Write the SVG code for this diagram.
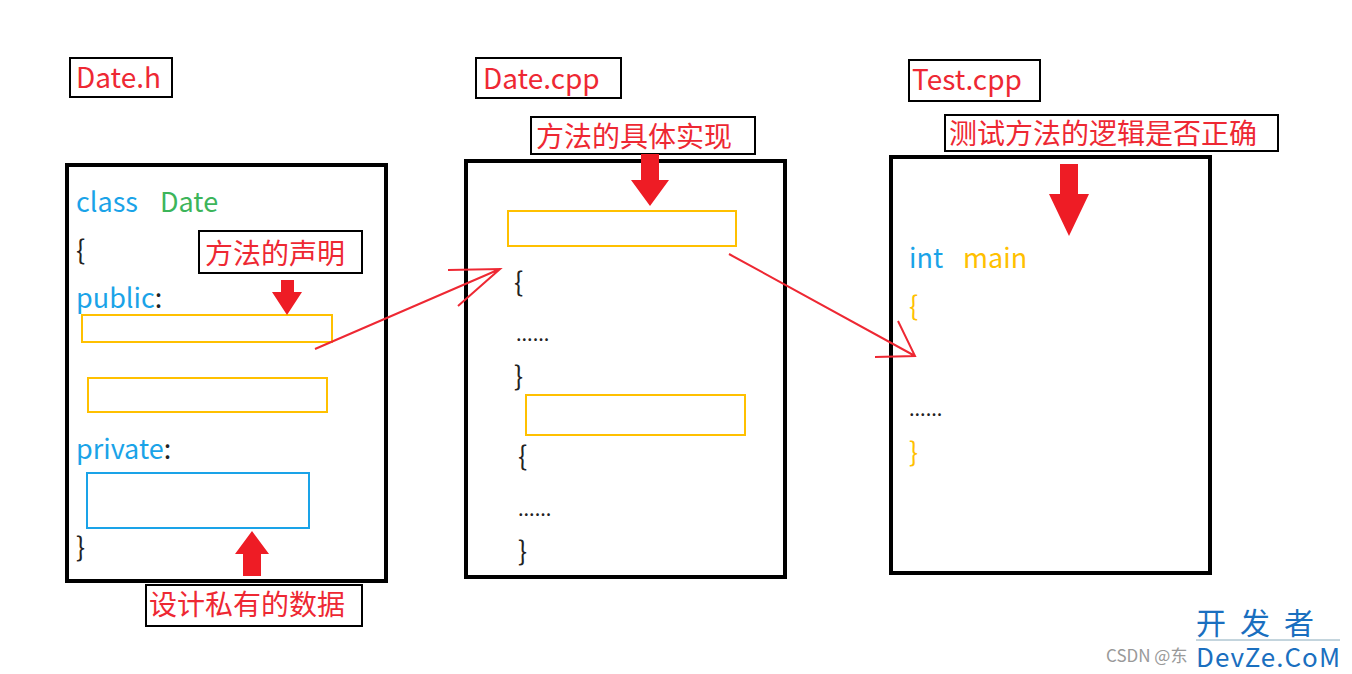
<svg xmlns="http://www.w3.org/2000/svg" width="1352" height="674" viewBox="0 0 1352 674">
<style>
text{font-family:"Microsoft YaHei","Noto Sans CJK SC",sans-serif}
.lbl{font-size:28px;fill:#ee2833}
.lb{fill:#fff;stroke:#000;stroke-width:2}
.box{fill:#fff;stroke:#000;stroke-width:4}
.y{fill:none;stroke:#ffc000;stroke-width:2}
.code{font-size:27px}
.dots{font-size:20px;fill:#222}
.blue{fill:#1aa3e8}.green{fill:#3cb55a}.blk{fill:#222}.yel{fill:#ffc000}
.ln{stroke:#ee2833;stroke-width:2;fill:none}
</style>
<rect width="1352" height="674" fill="#fff"/>
<g id="n-dateh"><rect class="lb" x="70" y="58" width="102" height="39"/><text class="lbl" x="76" y="88">Date.h</text></g>
<g id="n-datecpp"><rect class="lb" x="476" y="58" width="145" height="40"/><text class="lbl" x="483" y="89">Date.cpp</text></g>
<g id="n-testcpp"><rect class="lb" x="909" y="60" width="131" height="41"/><text class="lbl" x="912" y="90">Test.cpp</text></g>
<g id="box1"><rect class="box" x="67" y="165" width="319" height="416"/>
<text class="code blue" x="76" y="212">class</text><text class="code green" x="160" y="212">Date</text>
<text class="code blk" x="76" y="260">{</text>
<text class="code blue" x="76" y="308">public<tspan class="blk">:</tspan></text>
<rect class="y" x="82" y="315" width="250" height="27"/>
<rect class="y" x="88" y="378" width="239" height="34"/>
<text class="code blue" x="76" y="459">private<tspan class="blk">:</tspan></text>
<rect x="87" y="473" width="222" height="55" fill="none" stroke="#1aa3e8" stroke-width="2"/>
<text class="code blk" x="76" y="557">}</text></g>
<g id="box2"><rect class="box" x="466" y="161" width="319" height="416"/>
<rect class="y" x="508" y="211" width="228" height="35"/>
<text class="code blk" x="514" y="292">{</text>
<text class="dots" x="516" y="341">......</text>
<text class="code blk" x="514" y="386">}</text>
<rect class="y" x="526" y="395" width="219" height="40"/>
<text class="code blk" x="518" y="466">{</text>
<text class="dots" x="518" y="516">......</text>
<text class="code blk" x="518" y="561">}</text></g>
<g id="box3"><rect class="box" x="891" y="157" width="319" height="416"/>
<text class="code blue" x="909" y="268">int</text><text class="code yel" x="963" y="268">main</text>
<text class="code yel" x="909" y="316">{</text>
<text class="dots" x="909" y="416">......</text>
<text class="code yel" x="909" y="462">}</text></g>
<g id="c-decl"><rect class="lb" x="199" y="231" width="163" height="42"/><text class="lbl" x="205" y="264">方法的声明</text>
<path d="M281 280h13v12h8l-15 23l-15-23h9z" fill="#ee1c25"/></g>
<g id="c-impl"><rect class="lb" x="531" y="117" width="224" height="37"/><text class="lbl" x="536" y="147">方法的具体实现</text>
<path d="M641 154h18v26h10l-19 26l-19-26h10z" fill="#ee1c25"/></g>
<g id="c-test"><rect class="lb" x="945" y="115" width="333" height="36"/><text class="lbl" x="949" y="144">测试方法的逻辑是否正确</text>
<path d="M1060 164h18v30h11l-20 42l-20-42h11z" fill="#ee1c25"/></g>
<g id="c-priv"><rect class="lb" x="146" y="585" width="216" height="41"/><text class="lbl" x="149" y="615">设计私有的数据</text>
<path d="M252 531l17 23h-8v22h-18v-22h-8z" fill="#ee1c25"/></g>
<g id="connectors">
<path class="ln" d="M315 349L500 269M448 270L500 269L458 306"/>
<path class="ln" d="M729 254L915 356M875 357L915 356L898 321"/>
</g>
<g id="watermark">
<text x="1106" y="662" font-size="17" fill="#999">CSDN @东</text>
<text x="1196" y="634" font-size="30" fill="#1a6fbf" letter-spacing="14">开发者</text>
<line x1="1196" y1="640" x2="1340" y2="640" stroke="#8ab" stroke-width="1"/>
<text x="1196" y="667" font-size="26" fill="#1a6fbf" font-family="Liberation Sans,sans-serif" textLength="144">DevZe.CoM</text>
</g>
</svg>
